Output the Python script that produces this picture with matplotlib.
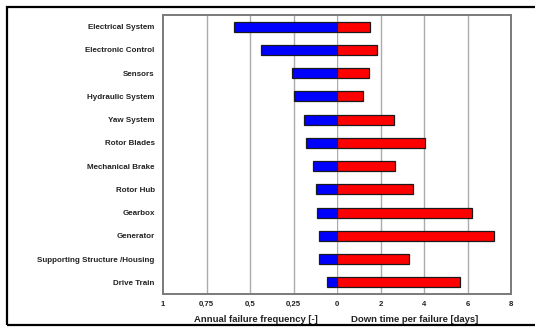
import matplotlib
matplotlib.use("Agg")
import matplotlib.pyplot as plt
from matplotlib.patches import Rectangle

plt.rcParams['font.family'] = ['Liberation Sans', 'DejaVu Sans']

components = [
    "Electrical System", "Electronic Control", "Sensors", "Hydraulic System",
    "Yaw System", "Rotor Blades", "Mechanical Brake", "Rotor Hub",
    "Gearbox", "Generator", "Supporting Structure /Housing", "Drive Train",
]
failure_frequency = [0.59, 0.435, 0.26, 0.245, 0.19, 0.18, 0.14, 0.12,
                     0.115, 0.105, 0.105, 0.06]
downtime_days = [1.5, 1.85, 1.45, 1.2, 2.6, 4.05, 2.65, 3.5,
                 6.2, 7.2, 3.3, 5.65]

freq_ticks = [1, 0.75, 0.5, 0.25, 0]
freq_tick_labels = ["1", "0,75", "0,5", "0,25", "0"]
days_ticks = [2, 4, 6, 8]
days_tick_labels = ["2", "4", "6", "8"]

W, H = 535, 329
fig = plt.figure(figsize=(W / 100, H / 100), dpi=100)
fig.patch.set_facecolor("white")

x0, xm, x1 = 163, 337, 511
ytop, ybot = 15, 294
ax_l = fig.add_axes([x0 / W, 1 - ybot / H, (xm - x0) / W, (ybot - ytop) / H])
ax_r = fig.add_axes([xm / W, 1 - ybot / H, (x1 - xm) / W, (ybot - ytop) / H],
                    sharey=ax_l)

ypos = list(range(len(components)))
bar_h = 0.42
edge = "#1a1a1a"

ax_l.barh(ypos, failure_frequency, height=bar_h, color="#0000ff",
          edgecolor=edge, linewidth=0.9, zorder=3)
ax_r.barh(ypos, downtime_days, height=bar_h, color="#ff0000",
          edgecolor=edge, linewidth=0.9, zorder=3)

ax_l.set_xlim(1, 0)
ax_r.set_xlim(0, 8)
ax_l.set_ylim(len(components) - 0.5, -0.5)

grid_c = "#ababab"
for x in [0.75, 0.5, 0.25]:
    ax_l.axvline(x, color=grid_c, linewidth=1.0, zorder=1)
for x in [2, 4, 6]:
    ax_r.axvline(x, color=grid_c, linewidth=1.0, zorder=1)
ax_r.axvline(0, color=grid_c, linewidth=1.0, zorder=1)

ax_l.set_xticks(freq_ticks)
ax_l.set_xticklabels(freq_tick_labels)
ax_r.set_xticks(days_ticks)
ax_r.set_xticklabels(days_tick_labels)

ax_l.set_yticks(ypos)
ax_l.set_yticklabels(components)
ax_r.tick_params(axis="y", left=False, labelleft=False)

for ax in (ax_l, ax_r):
    ax.tick_params(axis="x", length=0, pad=5, labelsize=5.6, colors="#222222")
    ax.tick_params(axis="y", length=0, pad=6)
    for lab in ax.get_xticklabels():
        lab.set_fontweight("bold")
for lab in ax_l.get_yticklabels():
    lab.set_fontweight("bold")
    lab.set_fontsize(5.8)
    lab.set_color("#222222")

frame_c = "#7a7a7a"
ax_l.spines["right"].set_visible(False)
ax_r.spines["left"].set_visible(False)
for ax in (ax_l, ax_r):
    for s in ax.spines.values():
        s.set_color(frame_c)
        s.set_linewidth(1.4)

fig.text(256 / W, 1 - 320 / H, "Annual failure frequency [-]", ha="center",
         va="center", fontsize=6.8, fontweight="bold", color="#222222")
fig.text(415 / W, 1 - 320 / H, "Down time per failure [days]", ha="center",
         va="center", fontsize=6.8, fontweight="bold", color="#222222")

# outer frame around the whole figure
fig.patches.append(Rectangle((7 / W, 1 - 325 / H), (545 - 7) / W, (325 - 7) / H,
                             transform=fig.transFigure, fill=False,
                             edgecolor="black", linewidth=1.6, zorder=10))

fig.savefig("out.png", dpi=100)
